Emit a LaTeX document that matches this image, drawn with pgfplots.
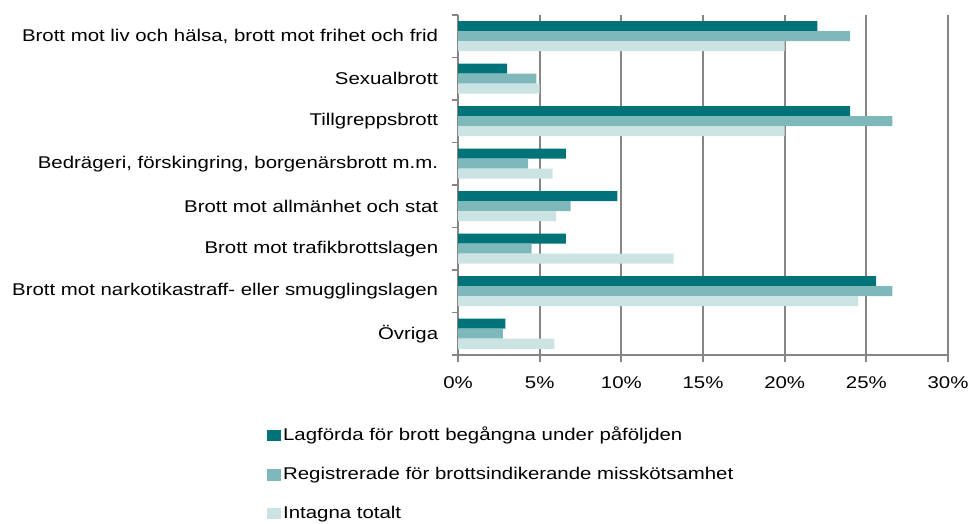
\documentclass[border=0pt]{standalone}
\usepackage{fontspec}
\setmainfont{Liberation Sans}[FakeStretch=1.2]
\usepackage{pgfplots}
\pgfplotsset{compat=1.18}
\definecolor{c1}{RGB}{0,115,120}
\definecolor{c2}{RGB}{127,184,186}
\definecolor{c3}{RGB}{204,227,227}
\definecolor{gridc}{RGB}{134,134,134}
\begin{document}
\fontsize{17bp}{20bp}\selectfont
\begin{tikzpicture}
\useasboundingbox (0,0) rectangle (971bp,524bp);
\begin{axis}[
  at={(458bp,169bp)}, anchor=south west,
  scale only axis, width=490bp, height=340bp,
  xbar, bar width=10bp,
  xmin=0, xmax=30, ymin=-0.5, ymax=7.5,
  axis x line*=bottom, axis y line*=left,
  xtick={0,5,...,30},
  xticklabel={\pgfmathprintnumber{\tick}\%},
  /pgf/number format/assume math mode=true,
  ytick={0,...,7},
  yticklabels={Övriga,Brott mot narkotikastraff- eller smugglingslagen,Brott mot trafikbrottslagen,Brott mot allmänhet och stat,{Bedrägeri, förskingring, borgenärsbrott m.m.},Tillgreppsbrott,Sexualbrott,{Brott mot liv och hälsa, brott mot frihet och frid}},
  minor ytick={-0.5,0.5,...,7.5},
  tick align=outside,
  major tick length=7bp, minor tick length=6bp,
  major y tick style={draw=none},
  tick style={gridc, line width=1.7bp},
  xmajorgrids, major x grid style={gridc, line width=1.7bp},
  axis line style={gridc, line width=1.7bp},
  ticklabel style={font=\fontsize{17bp}{20bp}\selectfont, text=black},
  yticklabel style={xshift=-7bp},
  xticklabel style={yshift=-9bp},
  legend style={at={(axis description cs:-0.396,-0.2)}, anchor=north west, draw=none, fill=none, font=\fontsize{17bp}{20bp}\selectfont, row sep=20bp},
  legend cell align=left,
  legend image code/.code={\draw[#1,draw=none] (0bp,-5.75bp) rectangle (14bp,5.75bp);},
]
\addplot[fill=c1, draw=none, bar shift=10bp] coordinates {(22,7) (3,6) (24,5) (6.6,4) (9.75,3) (6.6,2) (25.6,1) (2.9,0)};
\addplot[fill=c2, draw=none, bar shift=0bp] coordinates {(24,7) (4.8,6) (26.6,5) (4.3,4) (6.9,3) (4.5,2) (26.6,1) (2.75,0)};
\addplot[fill=c3, draw=none, bar shift=-10bp] coordinates {(20,7) (5,6) (20,5) (5.8,4) (6.0,3) (13.2,2) (24.5,1) (5.9,0)};
\legend{Lagförda för brott begångna under påföljden,Registrerade för brottsindikerande misskötsamhet,Intagna totalt}
\end{axis}
\end{tikzpicture}
\end{document}
